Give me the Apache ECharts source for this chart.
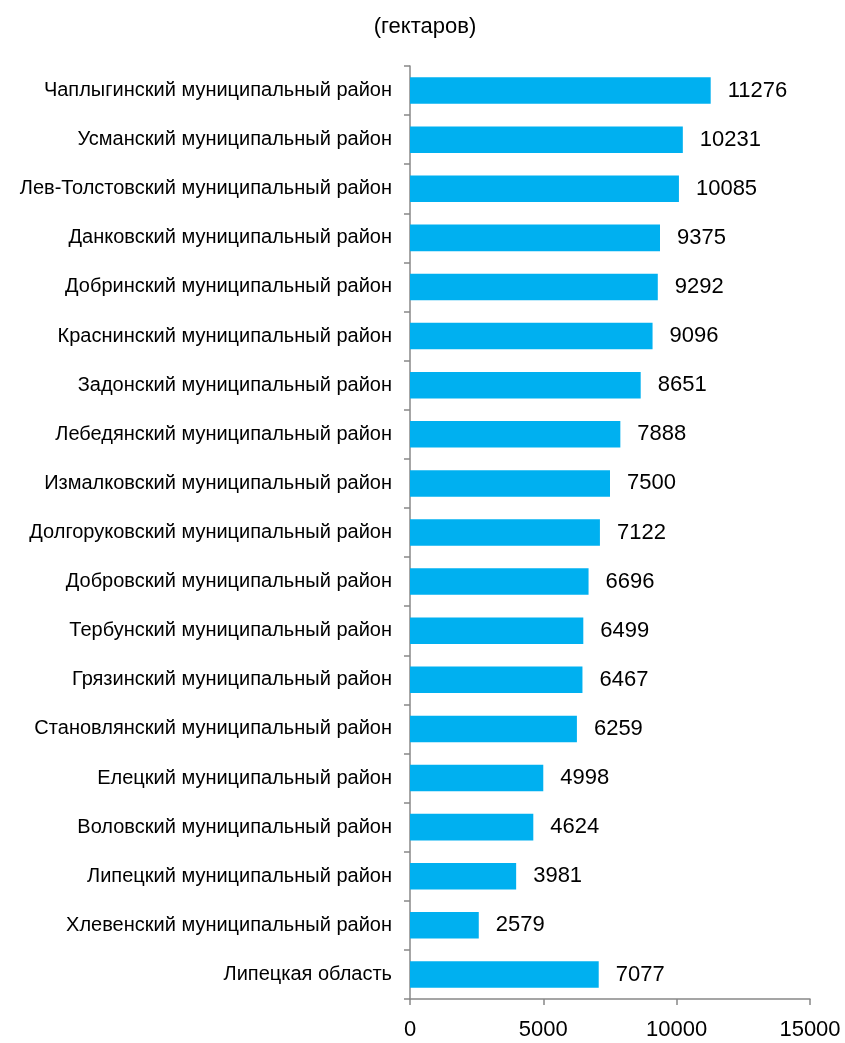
<!DOCTYPE html>
<html><head><meta charset="utf-8">
<script src="https://cdn.jsdelivr.net/npm/echarts@6/dist/echarts.min.js"></script>
<style>html,body{margin:0;padding:0;background:#fff}#c{width:845px;height:1043px}</style>
</head><body><div id="c"></div>
<script>
const categories = [
  "Чаплыгинский муниципальный район",
  "Усманский муниципальный район",
  "Лев-Толстовский муниципальный район",
  "Данковский муниципальный район",
  "Добринский муниципальный район",
  "Краснинский муниципальный район",
  "Задонский муниципальный район",
  "Лебедянский муниципальный район",
  "Измалковский муниципальный район",
  "Долгоруковский муниципальный район",
  "Добровский муниципальный район",
  "Тербунский муниципальный район",
  "Грязинский муниципальный район",
  "Становлянский муниципальный район",
  "Елецкий муниципальный район",
  "Воловский муниципальный район",
  "Липецкий муниципальный район",
  "Хлевенский муниципальный район",
  "Липецкая область"
];
const values = [11276,10231,10085,9375,9292,9096,8651,7888,7500,7122,6696,6499,6467,6259,4998,4624,3981,2579,7077];
const xTicks = [0,5000,10000,15000];
const titleText = "(гектаров)";

const chart = echarts.init(document.getElementById('c'));
const font = "Liberation Sans, Arial, sans-serif";
chart.setOption({
  animation:false,
  title:{text:titleText,left:420,top:11,textAlign:'center',
    textStyle:{fontFamily:font,fontSize:22,fontWeight:'normal',color:'#000'}},
  grid:{left:410,right:35,top:66,bottom:44,containLabel:false},
  xAxis:{type:'value',min:xTicks[0],max:xTicks[xTicks.length-1],interval:5000,
    axisLine:{show:true,lineStyle:{color:'#888',width:1.5}},
    axisTick:{show:true,length:6,lineStyle:{color:'#888',width:1.5}},
    splitLine:{show:false},
    axisLabel:{fontFamily:font,fontSize:22,color:'#000',margin:20,
      formatter:function(v){return String(v);}}},
  yAxis:{type:'category',inverse:true,data:categories,
    axisLine:{show:true,lineStyle:{color:'#888',width:1.5}},
    axisTick:{show:true,length:6,lineStyle:{color:'#888',width:1.5}},
    axisLabel:{fontFamily:font,fontSize:20,color:'#000',margin:18}},
  series:[{type:'bar',data:values,barWidth:'54%',
    itemStyle:{color:'#00B0F0'},
    label:{show:true,position:'right',distance:17,fontFamily:font,fontSize:22,color:'#000'}}]
});
</script></body></html>
